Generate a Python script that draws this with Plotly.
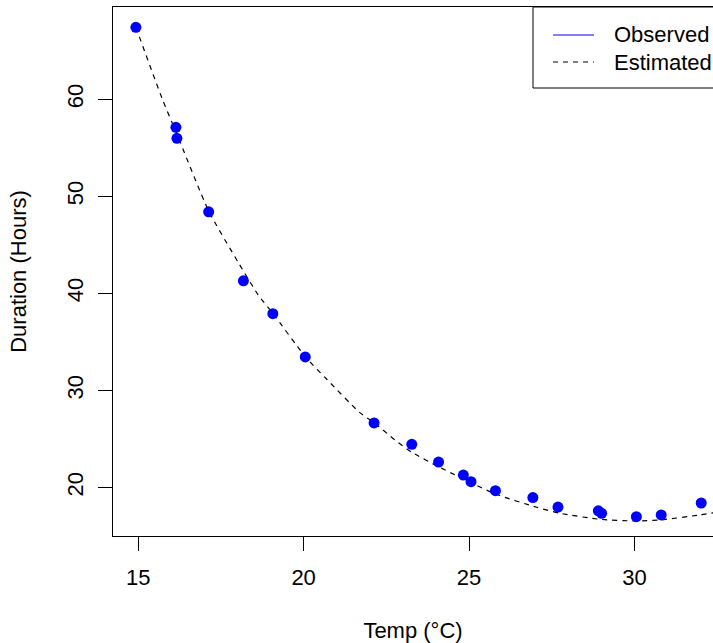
import plotly.graph_objects as go

# Observed data
temp_obs = [14.93, 16.14, 16.17, 17.13, 18.18, 19.07, 20.05, 22.13, 23.27, 24.08,
            24.83, 25.06, 25.80, 26.93, 27.69, 28.91, 29.01, 30.06, 30.81, 32.02]
dur_obs = [67.42, 57.11, 55.98, 48.41, 41.30, 37.91, 33.45, 26.65, 24.45, 22.62,
           21.28, 20.60, 19.67, 18.96, 17.98, 17.60, 17.34, 16.99, 17.17, 18.40]

# Estimated curve
temp_est = [14.93, 15.74, 16.16, 17.13, 18.03, 18.63, 19.07, 20.05, 20.70, 21.70,
            22.13, 22.76, 23.27, 24.08, 25.80, 27.05, 27.75, 28.96, 30.07, 30.77,
            31.98, 32.40]
dur_est = [67.42, 59.93, 56.50, 48.50, 43.16, 39.83, 37.95, 33.48, 31.15, 27.71,
           26.68, 24.90, 23.63, 22.14, 19.33, 17.96, 17.34, 16.72, 16.55, 16.65,
           17.17, 17.40]

x_ticks = [15, 20, 25, 30]
y_ticks = [20, 30, 40, 50, 60]
legend_labels = ["Observed", "Estimated"]

FONT = "Liberation Sans, Arial, Helvetica, sans-serif"
FS = 22
W, H = 713, 643
ML, MR, MT, MB = 113, 0, 7, 107
pw, ph = W - ML - MR, H - MT - MB

def px(xp):
    return (xp - ML) / pw

def py(yp):
    return (H - MB - yp) / ph

fig = go.Figure()
fig.add_trace(go.Scatter(x=temp_est, y=dur_est, mode="lines",
                         line=dict(color="black", width=1.2, dash="5px,5px", shape="spline", smoothing=0.6),
                         showlegend=False, hoverinfo="skip"))
fig.add_trace(go.Scatter(x=temp_obs, y=dur_obs, mode="markers",
                         marker=dict(color="#0000FF", size=11, line=dict(width=0)),
                         showlegend=False))

shapes = [
    dict(type="rect", xref="paper", yref="paper", x0=px(533), x1=1.1, y0=py(88), y1=1.0,
         line=dict(color="black", width=1), fillcolor="white", layer="above"),
    dict(type="line", xref="paper", yref="paper", x0=px(553), x1=px(594), y0=py(35), y1=py(35),
         line=dict(color="#0000FF", width=1.2)),
    dict(type="line", xref="paper", yref="paper", x0=px(553), x1=px(594), y0=py(62), y1=py(62),
         line=dict(color="black", width=1.2, dash="5px,5px")),
]
annotations = [
    dict(xref="paper", yref="paper", x=px(612), y=py(35), text=legend_labels[0], showarrow=False,
         xanchor="left", yanchor="middle", font=dict(family=FONT, size=FS, color="black")),
    dict(xref="paper", yref="paper", x=px(612), y=py(62), text=legend_labels[1], showarrow=False,
         xanchor="left", yanchor="middle", font=dict(family=FONT, size=FS, color="black")),
]

fig.update_layout(
    width=W, height=H,
    margin=dict(l=ML, r=MR, t=MT, b=MB),
    paper_bgcolor="white", plot_bgcolor="white",
    font=dict(family=FONT, size=FS, color="black"),
    shapes=shapes, annotations=annotations,
    showlegend=False,
    xaxis=dict(range=[14.238, 32.376], tickvals=x_ticks, ticktext=[str(v) for v in x_ticks],
               showgrid=False, zeroline=False, showline=True, mirror=True,
               linecolor="black", linewidth=1, ticks="outside", ticklen=14, tickcolor="black",
               tickwidth=1, ticklabelstandoff=8,
               title=dict(text="Temp (°C)", standoff=34, font=dict(family=FONT, size=FS))),
    yaxis=dict(range=[15.0, 69.51], tickvals=y_ticks, ticktext=[str(v) for v in y_ticks],
               showgrid=False, zeroline=False, showline=True, mirror=False,
               linecolor="black", linewidth=1, ticks="outside", ticklen=14, tickcolor="black",
               tickwidth=1, tickangle=-90, ticklabelstandoff=6,
               title=dict(text="Duration (Hours)", standoff=30, font=dict(family=FONT, size=FS))),
)

fig.write_html("out.html", config={"displayModeBar": False},
               post_script="document.body.style.margin='0';document.body.style.padding='0';")
